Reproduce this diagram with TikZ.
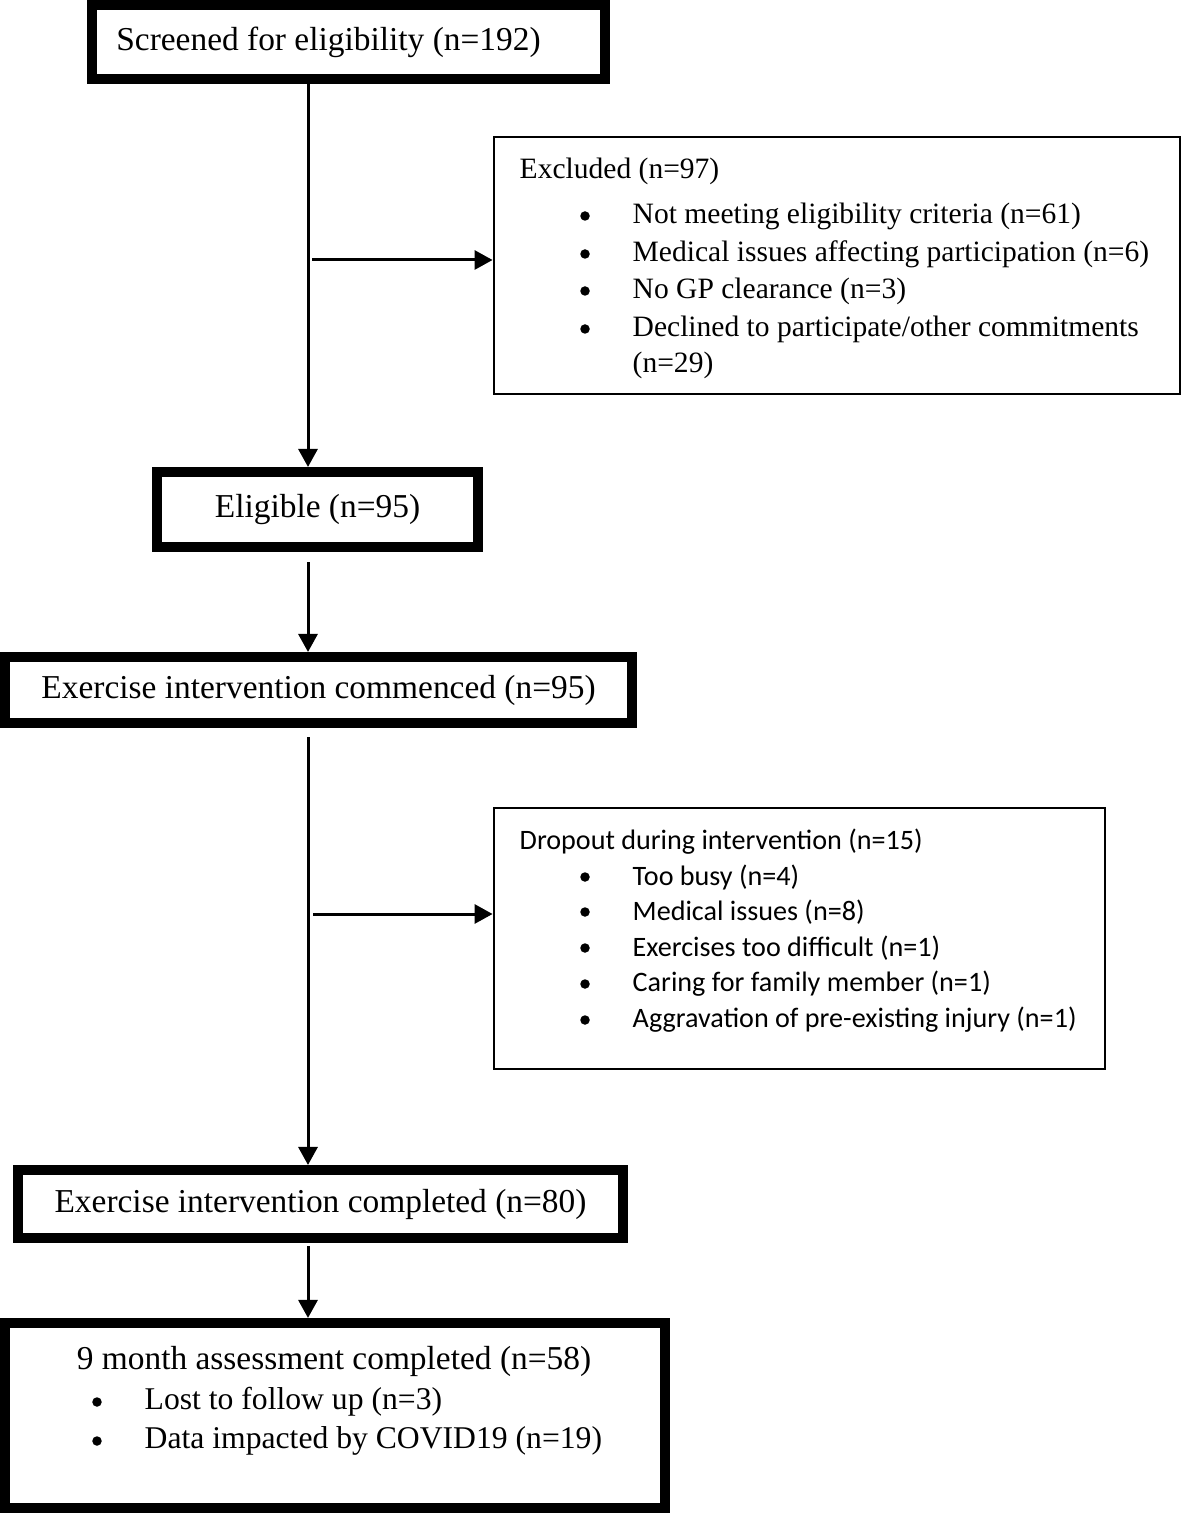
\documentclass[tikz,border=0pt]{standalone}
\usepackage{fontspec}
\setmainfont{Liberation Serif}
\newfontfamily\calibri{Carlito}
\usetikzlibrary{arrows.meta,calc}

\begin{document}
\begin{tikzpicture}[x=0.01cm,y=-0.01cm,
  thickbox/.style={draw,line width=0.1cm,inner sep=0},
  thinbox/.style={draw,line width=0.025cm,inner sep=0},
  dot/.style={circle,fill,inner sep=0,minimum size=0.095cm},
  flow/.style={line width=0.03cm,-{Triangle[length=0.18cm,width=0.19cm]}}]
\fontsize{9.5}{11.4}\selectfont
\newcommand\listrow[4]{
\node[dot] (#1b) at (#2+7,#3) {};
\node[anchor=west,inner sep=0] (#1) at (#2+54,#3) {#4};
}
\useasboundingbox (0,0) rectangle (1181,1513);
\coordinate (s) at (308,0);
\coordinate (h1) at (312,260);
\coordinate (h2) at (313,914);
\node[thickbox, minimum width=5.13cm, minimum height=0.74cm] (1) at (348.5,42) {Screened for eligibility (n=192)\hspace*{0.4cm}};
\node[thickbox, minimum width=3.21cm, minimum height=0.75cm] (2) at (317.5,509.5) {Eligible (n=95)};
\node[thickbox, minimum width=6.27cm, minimum height=0.66cm] (3) at (318.5,690) {Exercise intervention commenced (n=95)};
\node[thinbox, minimum width=6.86cm, minimum height=2.57cm] (4) at (837,265.5) {};
\node[thinbox, minimum width=6.11cm, minimum height=2.61cm] (5) at (799.5,938.5) {};
\node[thickbox, minimum width=6.05cm, minimum height=0.68cm] (6) at (320.5,1204) {Exercise intervention completed (n=80)};
\node[thickbox, minimum width=6.6cm, minimum height=1.85cm] (7) at (335,1415.5) {};
\begin{scope}[font=\fontsize{8.4}{10}\selectfont]
\node[anchor=west,inner sep=0] (4a) at (519,171) {Excluded (n=97)};
\listrow{4b}{578}{216}{Not meeting eligibility criteria (n=61)}
\listrow{4c}{578}{254}{Medical issues affecting participation (n=6)}
\listrow{4d}{578}{291}{No GP clearance (n=3)}
\listrow{4e}{578}{329}{Declined to participate/other commitments}
\node[anchor=west,inner sep=0] (4f) at (632,365) {(n=29)};
\end{scope}
\begin{scope}[font=\calibri\fontsize{8}{9.6}\selectfont]
\node[anchor=west,inner sep=0] (5a) at (519,842) {Dropout during intervention (n=15)};
\listrow{5b}{578}{877}{Too busy (n=4)}
\listrow{5c}{578}{912}{Medical issues (n=8)}
\listrow{5d}{578}{948}{Exercises too difficult (n=1)}
\listrow{5e}{578}{984}{Caring for family member (n=1)}
\listrow{5f}{578}{1020}{Aggravation of pre-existing injury (n=1)}
\end{scope}
\node[inner sep=0] (7a) at (334,1361) {9 month assessment completed (n=58)};
\begin{scope}[font=\fontsize{9}{10.8}\selectfont]
\listrow{7b}{90}{1402}{Lost to follow up (n=3)}
\listrow{7c}{90}{1441}{Data impacted by COVID19 (n=19)}
\end{scope}
\draw[flow] (1.south -| s) -- (2.north -| s);
\draw[flow] (h1) -- (h1 -| 4.west);
\draw[flow] ($(2.south -| s)+(0,10)$) -- (3.north -| s);
\draw[flow] ($(3.south -| s)+(0,9)$) -- (6.north -| s);
\draw[flow] (h2) -- (h2 -| 5.west);
\draw[flow] ($(6.south -| s)+(0,3)$) -- (7.north -| s);
\end{tikzpicture}
\end{document}
